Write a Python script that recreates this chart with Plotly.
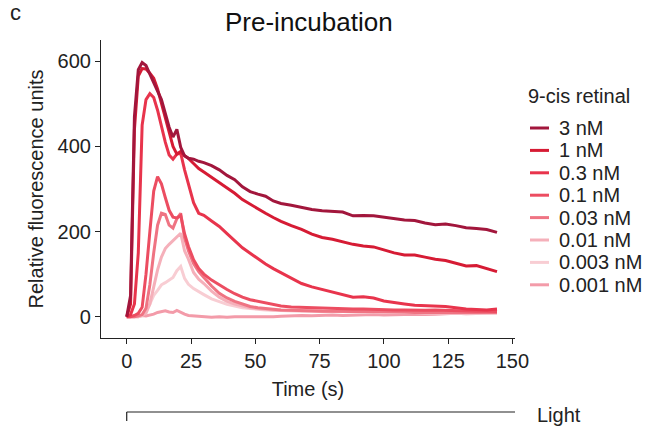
import plotly.graph_objects as go

time_s = [0, 1.5, 3, 4.5, 6, 7.5, 9, 10.5, 12, 13.5, 15, 16.5, 18, 19.5, 21, 22.5,
          24, 26, 28, 30, 33, 36, 39, 42, 45, 48, 51, 54, 57, 60,
          64, 68, 72, 76, 80, 84, 88, 92, 96, 100, 104, 108, 112, 116, 120, 124,
          128, 132, 136, 140, 144]

nm_3 = [0, 50, 470, 580, 597, 590, 570, 548, 530, 510, 480, 445, 422, 440, 398, 378,
        372, 370, 365, 362, 355, 345, 332, 322, 305, 294, 288, 283, 272, 266,
        262, 257, 252, 249, 247, 246, 237, 238, 237, 234, 230, 227, 226, 220, 216, 218,
        214, 209, 207, 205, 198]
nm_1 = [0, 30, 440, 565, 583, 582, 572, 560, 535, 500, 465, 430, 400, 382, 388, 378,
        372, 360, 348, 340, 328, 315, 302, 290, 275, 264, 252, 243, 233, 224,
        214, 205, 194, 186, 182, 176, 170, 166, 164, 157, 150, 145, 145, 140, 135, 132,
        126, 119, 120, 113, 106]
nm_03 = [0, 5, 30, 150, 450, 510, 524, 515, 485, 445, 410, 380, 370, 382, 384, 345,
         310, 268, 243, 238, 225, 212, 195, 178, 162, 149, 136, 124, 113, 103,
         90, 78, 70, 64, 58, 52, 46, 47, 44, 37, 33, 30, 27, 26, 25, 24,
         21, 18, 17, 16, 18]
nm_01 = [0, 0, 3, 8, 22, 100, 200, 295, 329, 312, 280, 250, 234, 232, 238, 195,
         165, 134, 113, 100, 86, 76, 64, 54, 46, 40, 36, 32, 28, 25,
         23, 22, 21, 20, 20, 19, 18, 18, 17, 17, 16, 16, 15, 15, 16, 15,
         14, 13, 13, 13, 12]
nm_003 = [0, 0, 0, 2, 5, 20, 75, 150, 215, 243, 240, 215, 208, 230, 243, 185,
          155, 125, 106, 92, 72, 55, 44, 36, 30, 24, 21, 19, 17, 16,
          15, 14, 14, 13, 13, 12, 12, 12, 12, 11, 11, 11, 10, 10, 10, 10,
          10, 10, 10, 10, 10]
nm_001 = [0, 0, 0, 0, 3, 8, 30, 70, 110, 140, 160, 170, 178, 188, 196, 155,
          135, 104, 88, 78, 60, 46, 36, 30, 25, 21, 19, 17, 16, 15,
          15, 14, 14, 13, 13, 13, 12, 12, 12, 12, 12, 11, 11, 11, 11, 11,
          10, 10, 10, 10, 10]
nm_0003 = [0, 0, 0, 0, 3, 15, 30, 50, 62, 75, 80, 85, 92, 108, 118, 90,
           76, 66, 58, 52, 42, 35, 29, 25, 21, 19, 17, 16, 15, 14,
           14, 13, 13, 13, 12, 12, 12, 11, 11, 11, 10, 10, 10, 9, 9, 9,
           9, 8, 8, 8, 8]
nm_0001 = [0, 0, 1, 2, 3, 2, 4, 6, 10, 12, 14, 11, 10, 15, 10, 6,
           3, 2, 0, 0, -1, 0, -1, 0, 0, -1, 0, -1, 0, 1,
           2, 3, 2, 3, 4, 3, 4, 5, 5, 4, 4, 5, 6, 5, 6, 7,
           8, 7, 8, 8, 9]

series_names = ["3 nM", "1 nM", "0.3 nM", "0.1 nM", "0.03 nM", "0.01 nM", "0.003 nM", "0.001 nM"]
series_values = [nm_3, nm_1, nm_03, nm_01, nm_003, nm_001, nm_0003, nm_0001]
colors = ["#A2163C", "#D61B34", "#E8344C", "#EC4D61", "#EF7483", "#F5B0BA", "#F8CDD3", "#F39BA9"]
legend_title = "9-cis retinal"

x_ticks = [0, 25, 50, 75, 100, 125, 150]
y_ticks = [0, 200, 400, 600]

FONT = "Liberation Sans, Arial, Helvetica, sans-serif"
FS = 20

# plot area in pixels (for placing the hand-drawn legend)
L, R, T, B = 101, 515, 40, 338
def px(xp):
    return (xp - L) / (R - L)
def py(yp):
    return (B - yp) / (B - T)

fig = go.Figure()
for i in reversed(range(len(series_names))):
    fig.add_trace(go.Scatter(
        x=time_s, y=series_values[i], mode="lines", name=series_names[i],
        line=dict(color=colors[i], width=3), showlegend=False,
    ))

fig.update_layout(
    width=659, height=431,
    margin=dict(l=L, r=659 - R, t=T, b=431 - B),
    paper_bgcolor="white", plot_bgcolor="white",
    font=dict(family=FONT, size=FS, color="#222"),
    title=dict(text="Pre-incubation", x=0.502, xref="paper", xanchor="center",
               y=0.949, yanchor="middle", font=dict(size=26, color="#111")),
    showlegend=False,
    xaxis=dict(
        range=[-10, 151], tickvals=x_ticks, ticktext=[str(v) for v in x_ticks],
        showline=True, linecolor="#222", linewidth=1.2, ticks="outside", ticklen=5,
        tickcolor="#222", showgrid=False, zeroline=False, tickfont=dict(size=FS),
        title=dict(text="Time (s)", standoff=10, font=dict(size=FS)),
    ),
    yaxis=dict(
        range=[-50, 650], tickvals=y_ticks, ticktext=[str(v) for v in y_ticks],
        showline=True, linecolor="#222", linewidth=1.2, ticks="outside", ticklen=5,
        tickcolor="#222", showgrid=False, zeroline=False, tickfont=dict(size=FS),
        title=dict(text="Relative fluorescence units", standoff=8, font=dict(size=FS)),
    ),
)

# legend drawn by hand to match compact spacing
fig.add_annotation(text=legend_title, xref="paper", yref="paper", x=px(526), y=py(96),
                   xanchor="left", yanchor="middle", showarrow=False, font=dict(size=FS))
for i, name in enumerate(series_names):
    yc = 128 + i * 22.4
    fig.add_shape(type="line", xref="paper", yref="paper", x0=px(530), x1=px(549),
                  y0=py(yc), y1=py(yc), line=dict(color=colors[i], width=3))
    fig.add_annotation(text=name, xref="paper", yref="paper", x=px(557), y=py(yc),
                       xanchor="left", yanchor="middle", showarrow=False, font=dict(size=FS))

# Light bracket below the axis
fig.add_shape(type="line", xref="x", yref="paper", x0=0, x1=151, y0=py(412), y1=py(412),
              line=dict(color="#222", width=1.2))
fig.add_shape(type="line", xref="x", yref="paper", x0=0, x1=0, y0=py(412), y1=py(421),
              line=dict(color="#222", width=1.2))
fig.add_annotation(text="Light", xref="paper", yref="paper", x=px(535), y=py(415),
                   xanchor="left", yanchor="middle", showarrow=False, font=dict(size=FS))
fig.add_annotation(text="c", xref="paper", yref="paper", x=px(8), y=py(-2),
                   xanchor="left", yanchor="top", showarrow=False, font=dict(size=22))

fig.write_html("out.html")
